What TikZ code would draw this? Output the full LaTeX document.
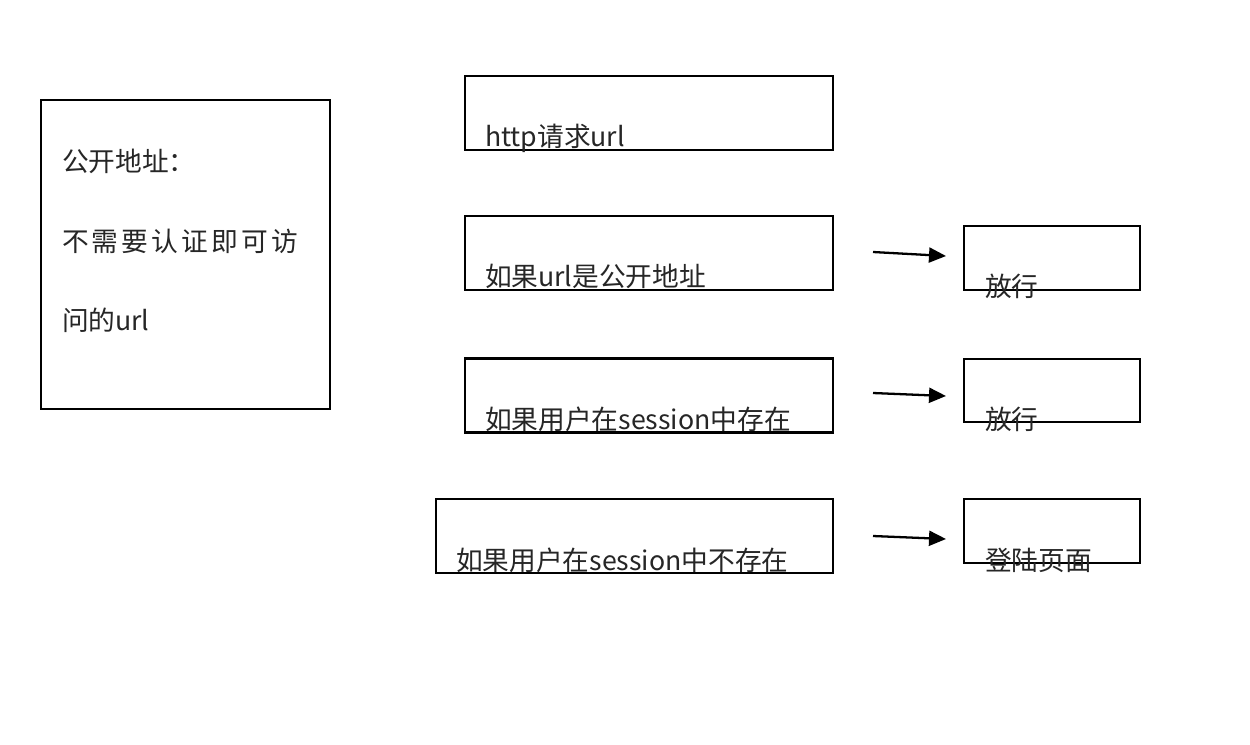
\documentclass[tikz,border=0pt]{standalone}
\usepackage{fontspec}
\setmainfont{Noto Sans CJK SC}
\newfontfamily\cjkspaced[LetterSpace=12]{Noto Sans CJK SC}
\usetikzlibrary{arrows.meta}
\begin{document}
\begin{tikzpicture}[x=0.02cm,y=-0.02cm,
  box/.style={draw=black,line width=1.3pt,inner sep=0pt,outer sep=0pt},
  lbl/.style={anchor=base west,inner sep=0pt,outer sep=0pt,text=black!85,font=\fontsize{15.2}{18}\selectfont},
  conn/.style={line width=1.3pt,-{Triangle[length=0.34cm,width=0.3cm]}}]
\useasboundingbox[fill=white] (0,0) rectangle (1250,744);
% left box
\node[box,minimum width=5.78cm,minimum height=6.18cm] (pub) at (185.5,254.5) {};
\node[lbl] (pub1) at (62,171) {公开地址：};
\node[lbl,font=\fontsize{15.2}{18}\cjkspaced] (pub2) at (62,251) {不需要认证即可访};
\node[lbl] (pub3) at (62,330) {问的url};
% main boxes
\node[box,minimum width=7.36cm,minimum height=1.48cm] (b1) at (649,113) {};
\node[lbl] (t1) at (485,146) {http请求url};
\node[box,minimum width=7.36cm,minimum height=1.48cm] (b2) at (649,253) {};
\node[lbl] (t2) at (485,286) {如果url是公开地址};
\node[box,minimum width=7.36cm,minimum height=1.48cm] (b3) at (649,395.5) {};
\node[lbl] (t3) at (485,429) {如果用户在session中存在};
\node[box,minimum width=7.94cm,minimum height=1.48cm] (b4) at (634.5,536) {};
\node[lbl] (t4) at (456,570) {如果用户在session中不存在};
% right boxes
\node[box,minimum width=3.52cm,minimum height=1.28cm] (r2) at (1052,258) {};
\node[lbl] (rt2) at (985,296) {放行};
\node[box,minimum width=3.52cm,minimum height=1.26cm] (r3) at (1052,390.5) {};
\node[lbl] (rt3) at (985,429) {放行};
\node[box,minimum width=3.52cm,minimum height=1.28cm] (r4) at (1052,531) {};
\node[lbl] (rt4) at (985,570) {登陆页面};
% arrows
\coordinate (a2s) at (873,252); \coordinate (a2e) at (946,256);
\coordinate (a3s) at (873,393); \coordinate (a3e) at (946,396);
\coordinate (a4s) at (873,536); \coordinate (a4e) at (946,539);
\draw[conn] (a2s) -- (a2e);
\draw[conn] (a3s) -- (a3e);
\draw[conn] (a4s) -- (a4e);
\end{tikzpicture}
\end{document}
